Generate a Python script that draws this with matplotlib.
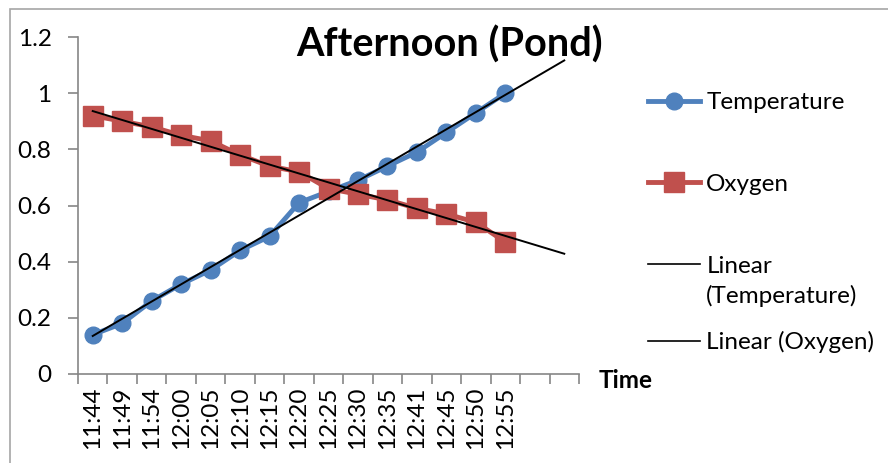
import numpy as np
import matplotlib
matplotlib.use("Agg")
import matplotlib.pyplot as plt
from matplotlib.patches import Rectangle
from matplotlib.lines import Line2D

plt.rcParams['font.family'] = ['Lato', 'DejaVu Sans']

# data
times = ['11:44', '11:49', '11:54', '12:00', '12:05', '12:10', '12:15', '12:20',
         '12:25', '12:30', '12:35', '12:41', '12:45', '12:50', '12:55', '', '']
temperature = [0.14, 0.18, 0.26, 0.32, 0.37, 0.44, 0.49, 0.61,
               0.65, 0.69, 0.74, 0.79, 0.86, 0.93, 1.0]
oxygen = [0.92, 0.90, 0.88, 0.85, 0.83, 0.78, 0.74, 0.72,
          0.66, 0.64, 0.62, 0.59, 0.57, 0.54, 0.47]
forecast = 2  # trendlines run 2 periods forward

blue = '#4F81BD'
red = '#C0504D'
grey = '#868686'
fs = 17.5

fig = plt.figure(figsize=(8.88, 4.63), dpi=100)
ax = fig.add_axes([78/888, 1-374/463, (579-78)/888, (374-37)/463])

x = np.arange(len(temperature))
ax.plot(x, temperature, color=blue, lw=3.5, marker='o', ms=12, zorder=3)
ax.plot(x, oxygen, color=red, lw=3.5, marker='s', ms=14, zorder=3)

xt = np.arange(0, len(temperature) - 1 + forecast + 0.01, 0.5)
for ser in (temperature, oxygen):
    k, b = np.polyfit(x, ser, 1)
    ax.plot(xt, k*xt + b, color='black', lw=1.4, zorder=4)

ax.set_xlim(-0.5, len(times) - 0.5)
ax.set_ylim(0, 1.2)
ax.set_yticks(np.arange(0, 1.21, 0.2))
ax.set_yticklabels(['0', '0.2', '0.4', '0.6', '0.8', '1', '1.2'], fontsize=fs)
ax.set_xticks(np.arange(-0.5, len(times)))
ax.set_xticklabels([])
ax.set_xticks(np.arange(len(times)), minor=True)
ax.set_xticklabels(times, minor=True, rotation=90, fontsize=fs)
ax.tick_params(axis='x', which='minor', length=0, pad=9)
ax.tick_params(axis='both', which='major', length=7, color=grey, width=1.2)
ax.tick_params(axis='y', pad=12)
for s in ('top', 'right'):
    ax.spines[s].set_visible(False)
for s in ('left', 'bottom'):
    ax.spines[s].set_color(grey)
    ax.spines[s].set_linewidth(1.2)

fig.text(450/888, 1-45/463, 'Afternoon (Pond)', fontsize=28.5, fontweight='bold',
         ha='center', va='center')
fig.text(599/888, 1-381/463, 'Time', fontsize=fs, fontweight='bold',
         ha='left', va='center')

handles = [
    Line2D([], [], color=blue, lw=3.5, marker='o', ms=12),
    Line2D([], [], color=red, lw=3.5, marker='s', ms=14),
    Line2D([], [], color='black', lw=1.2),
    Line2D([], [], color='black', lw=1.2),
]
labels = ['Temperature', 'Oxygen', 'Linear', 'Linear (Oxygen)']
leg_kw = dict(frameon=False, fontsize=fs, handlelength=2.15, handletextpad=0.25,
              borderpad=0, borderaxespad=0)
fig.legend(handles[:3], labels[:3], loc='upper left',
           bbox_to_anchor=(648/888, 1-92/463), labelspacing=2.5, **leg_kw)
# second line of the wrapped trendline label
fig.text(706/888, 1-296/463, '(Temperature)', fontsize=fs, ha='left', va='center')
fig.legend(handles[3:], labels[3:], loc='center left',
           bbox_to_anchor=(648/888, 1-342/463), **leg_kw)

fig.patches.append(Rectangle((10/888, -0.1), 1.2, 1.1 - 9/463,
                             transform=fig.transFigure, fill=False,
                             edgecolor='#a6a6a6', lw=1.2, clip_on=False))

fig.savefig('out.png', dpi=100)
